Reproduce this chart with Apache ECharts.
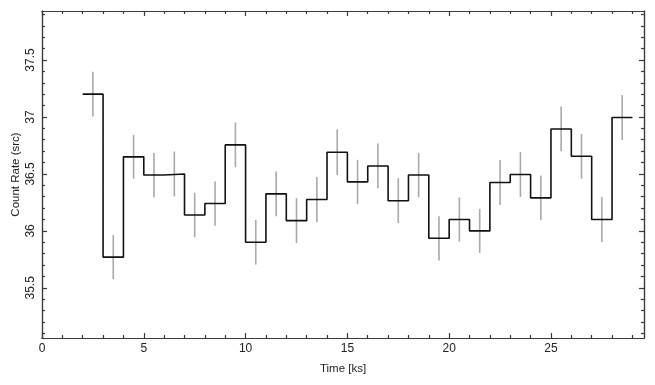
<!DOCTYPE html>
<html>
<head>
<meta charset="utf-8">
<script src="https://cdn.jsdelivr.net/npm/echarts@6/dist/echarts.min.js"></script>
<style>html,body{margin:0;padding:0;background:#fff}#c{width:655px;height:385px}</style>
</head>
<body>
<div id="c"></div>
<script>
// Bin centres (ks), count rate, 1-sigma error
const binCenters = [2.5,3.5,4.5,5.5,6.5,7.5,8.5,9.5,10.5,11.5,12.5,13.5,14.5,15.5,16.5,17.5,18.5,19.5,20.5,21.5,22.5,23.5,24.5,25.5,26.5,27.5,28.5];
const rates = [37.20,35.77,36.65,36.49,36.50,36.14,36.24,36.755,35.90,36.325,36.09,36.275,36.69,36.43,36.57,36.265,36.49,35.935,36.10,36.00,36.425,36.495,36.29,36.895,36.655,36.10,36.995];
const errors = [0.197,0.194,0.193,0.194,0.197,0.194,0.194,0.197,0.196,0.196,0.197,0.199,0.199,0.194,0.196,0.197,0.194,0.194,0.193,0.193,0.197,0.197,0.196,0.196,0.196,0.197,0.197];
const binWidth = 1;
const xMajorTicks = [0,5,10,15,20,25];
const xMinorTicks = [1,2,3,4,6,7,8,9,11,12,13,14,16,17,18,19,21,22,23,24,26,27,28,29];
const yMajorTicks = [35.5,36,36.5,37,37.5];
const yMinorTicks = [35.1,35.2,35.3,35.4,35.6,35.7,35.8,35.9,36.1,36.2,36.3,36.4,36.6,36.7,36.8,36.9,37.1,37.2,37.3,37.4,37.6,37.7,37.8,37.9];
const xRange = [0, 29.57];
const yRange = [35.06, 37.93];

// step line points built from bin edges
const stepData = binCenters.map((c,i)=>[c - binWidth/2, rates[i]]);
stepData.push([binCenters[binCenters.length-1] + binWidth/2, rates[rates.length-1]]);
const errData = binCenters.map((c,i)=>[c, rates[i]-errors[i], rates[i]+errors[i]]);

const axisColor = '#3a3a3a';
const fontFam = '"Liberation Sans", Arial, Helvetica, sans-serif';

function xAx(pos, major, labels, name) {
  return {
    type:'value', position:pos, min:xRange[0], max:xRange[1],
    axisLine:{show:true, onZero:false, lineStyle:{color:axisColor, width:1.2}},
    axisTick:{show:true, inside:true, length: major?5:3, customValues: major?xMajorTicks:xMinorTicks, lineStyle:{color:axisColor, width:1.2}},
    axisLabel:{show:labels, customValues:xMajorTicks, color:'#222', fontSize:12, fontFamily:fontFam, margin:5},
    splitLine:{show:false},
    name: name || '', nameLocation:'middle', nameGap:25,
    nameTextStyle:{color:'#222', fontSize:11.5, fontFamily:fontFam}
  };
}
function yAx(pos, major, labels, name) {
  return {
    type:'value', position:pos, min:yRange[0], max:yRange[1],
    axisLine:{show:true, onZero:false, lineStyle:{color:axisColor, width:1.2}},
    axisTick:{show:true, inside:true, length: major?5:3, customValues: major?yMajorTicks:yMinorTicks, lineStyle:{color:axisColor, width:1.2}},
    axisLabel:{show:labels, customValues:yMajorTicks, rotate:90, color:'#222', fontSize:12, fontFamily:fontFam, margin:5,
      formatter:v=>String(v)},
    splitLine:{show:false},
    name: name || '', nameLocation:'middle', nameGap:20, nameMoveOverlap:false,
    nameTextStyle:{color:'#222', fontSize:11.5, fontFamily:fontFam}
  };
}

const chart = echarts.init(document.getElementById('c'), null, {renderer:'canvas'});
chart.setOption({
  animation:false,
  backgroundColor:'#fff',
  grid:{left:42, right:11, top:11, bottom:47, containLabel:false, outerBoundsMode:'none'},
  xAxis:[ xAx('bottom',true,true,'Time [ks]'), xAx('bottom',false,false), xAx('top',true,false), xAx('top',false,false) ],
  yAxis:[ yAx('left',true,true,'Count Rate (src)'), yAx('left',false,false), yAx('right',true,false), yAx('right',false,false) ],
  series:[
    {
      type:'custom', xAxisIndex:0, yAxisIndex:0, data:errData, z:2,
      renderItem:(params, api)=>{
        const lo = api.coord([api.value(0), api.value(1)]);
        const hi = api.coord([api.value(0), api.value(2)]);
        return {type:'line', shape:{x1:lo[0], y1:lo[1], x2:hi[0], y2:hi[1]},
          style:{stroke:'#a9a9a9', lineWidth:1.6}};
      }
    },
    {
      type:'line', xAxisIndex:0, yAxisIndex:0, data:stepData, step:'end', showSymbol:false, z:3,
      lineStyle:{color:'#111', width:1.6}
    }
  ]
});
</script>
</body>
</html>
